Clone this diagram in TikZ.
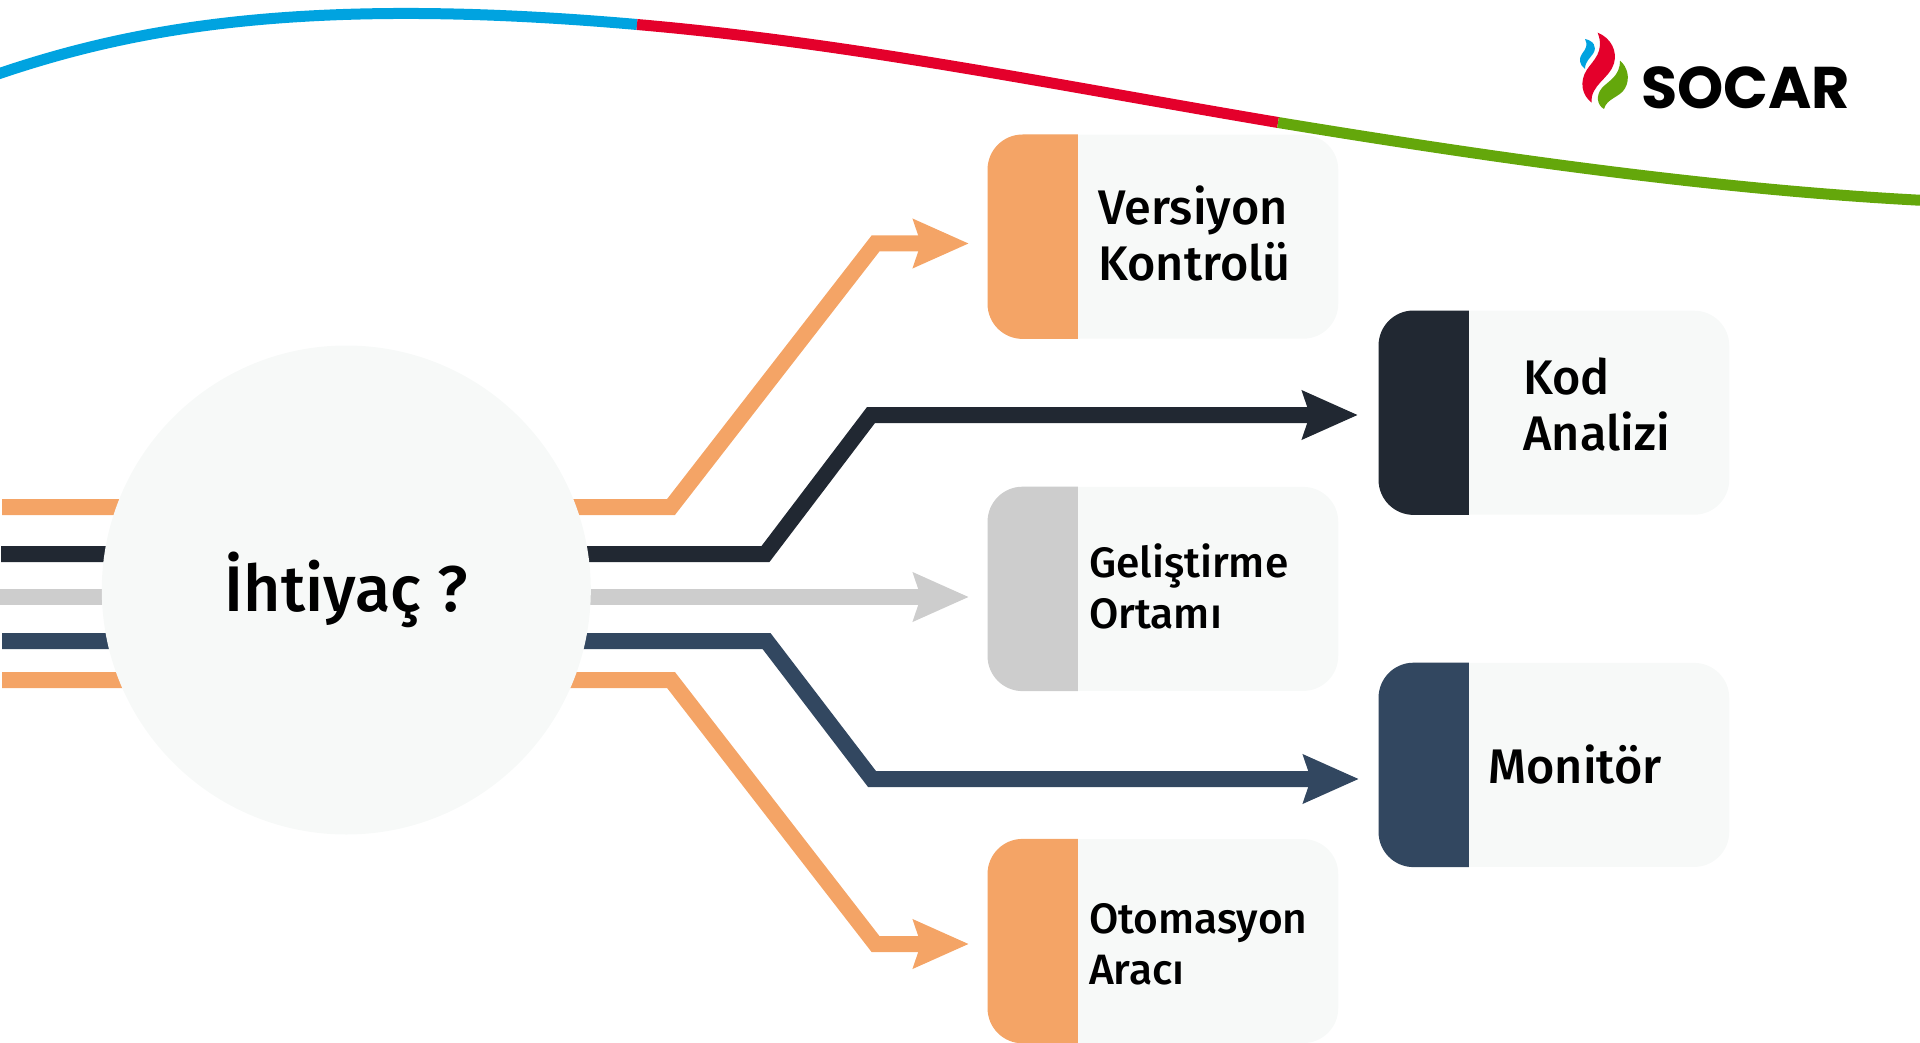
\documentclass[tikz,border=0pt]{standalone}
\usepackage{fontspec}
\usetikzlibrary{arrows.meta}
\setmainfont{Fira Sans Medium}
\newfontfamily\logofont{Poppins}[Scale=1]
\definecolor{peach}{HTML}{F4A466}
\definecolor{coal}{HTML}{212832}
\definecolor{ash}{HTML}{CDCDCD}
\definecolor{slate}{HTML}{324760}
\definecolor{pale}{HTML}{F7F9F8}
\definecolor{skyblue}{HTML}{00A3E0}
\definecolor{flamered}{HTML}{E4002B}
\definecolor{leaf}{HTML}{64A70B}
\newcommand{\sidebar}[2]{\fill[#2] ([xshift=90.3pt]#1.north west) [rounded corners=35pt] -- (#1.north west) -- (#1.south west) [sharp corners] -- ([xshift=90.3pt]#1.south west) -- cycle;}

\begin{document}
\begin{tikzpicture}[x=1pt, y=-1pt, node distance=352.2pt,
    wire/.style={line width=16pt, -{Stealth[length=55pt, width=47pt, inset=7pt]}},
    tool/.style={fill=pale, rounded corners=35pt, minimum width=350.5pt, minimum height=204pt, inner sep=0pt},
    need/.style={circle, fill=pale, minimum size=489pt, inner sep=0pt, font=\fontsize{64.5}{78}\selectfont},
    tag/.style={anchor=west, align=left, font=\fontsize{48.6}{56}\selectfont},
    smalltag/.style={anchor=west, align=left, font=\fontsize{42.5}{51}\selectfont},
    band/.style={line width=11pt}]
    \useasboundingbox (0,0) rectangle (1920,1043);

    % top band
    \draw[band, skyblue] (-5,75) .. controls (130,29) and (300,-5) .. (637,24.5);
    \draw[band, flamered] (637,24.5) .. controls (850,43) and (1050,84) .. (1278,122.5);
    \draw[band, leaf] (1278,122.5) .. controls (1500,159) and (1720,190) .. (1925,200.5);

    % logo
    \begin{scope}[shift={(1540,10)}, x=0.3333pt, y=-0.3333pt]
        \fill[flamered] (173,68) .. controls (215,85) and (232,125) .. (222,160) .. controls (210,205) and (150,225) .. (155,278) .. controls (125,255) and (118,215) .. (140,180) .. controls (160,150) and (195,125) .. (173,68) -- cycle;
        \fill[skyblue] (135,87) .. controls (160,92) and (172,110) .. (160,130) .. controls (150,145) and (135,155) .. (135,177) .. controls (118,165) and (115,145) .. (127,130) .. controls (137,117) and (145,105) .. (135,87) -- cycle;
        \fill[leaf] (240,152) .. controls (262,170) and (272,205) .. (255,235) .. controls (240,262) and (200,265) .. (192,297) .. controls (170,285) and (168,255) .. (185,235) .. controls (205,212) and (240,200) .. (240,152) -- cycle;
    \end{scope}
    \node[anchor=base west, inner sep=0pt, font={\logofont\bfseries\fontsize{58.8}{60}\selectfont}] (socar) at (1641,109) {SOCAR};

    % wires
    \coordinate (a1) at (2,507);    \coordinate (a2) at (671,507);  \coordinate (a3) at (875.5,243.5); \coordinate (a4) at (969,243.5);
    \coordinate (b1) at (1,554);    \coordinate (b2) at (765.5,554); \coordinate (b3) at (871,415);    \coordinate (b4) at (1358,415);
    \coordinate (c1) at (0,597);    \coordinate (c4) at (969,597);
    \coordinate (d1) at (2,641);    \coordinate (d2) at (766.5,641); \coordinate (d3) at (872,779);    \coordinate (d4) at (1359,779);
    \coordinate (e1) at (2,680);    \coordinate (e2) at (671,680);  \coordinate (e3) at (875.5,944);   \coordinate (e4) at (969,944);

    \draw[wire, peach] (a1) -- (a2) -- (a3) -- (a4);
    \draw[wire, coal] (b1) -- (b2) -- (b3) -- (b4);
    \draw[wire, ash] (c1) -- (c4);
    \draw[wire, slate] (d1) -- (d2) -- (d3) -- (d4);
    \draw[wire, peach] (e1) -- (e2) -- (e3) -- (e4);

    \node[need] (need) at (346.3,590) {İhtiyaç ?};

    % tools
    \node[tool] (version) at (1163,236.7) {};
    \node[tool] (env) [below of = version] {};
    \node[tool] (auto) [below of = env] {};
    \node[tool] (code) at (1554,412.7) {};
    \node[tool] (monitor) [below of = code] {};

    \sidebar{version}{peach}
    \sidebar{env}{ash}
    \sidebar{auto}{peach}
    \sidebar{code}{coal}
    \sidebar{monitor}{slate}

    \node[tag] (versiontext) at (1095,233.5) {Versiyon\\Kontrolü};
    \node[smalltag] (envtext) at (1085.5,586) {Geliştirme\\Ortamı};
    \node[smalltag] (autotext) at (1085.5,944) {Otomasyon\\Aracı};
    \node[tag] (codetext) at (1520,405) {Kod\\Analizi};
    \node[tag] (monitortext) at (1485,764) {Monitör};
\end{tikzpicture}
\end{document}
